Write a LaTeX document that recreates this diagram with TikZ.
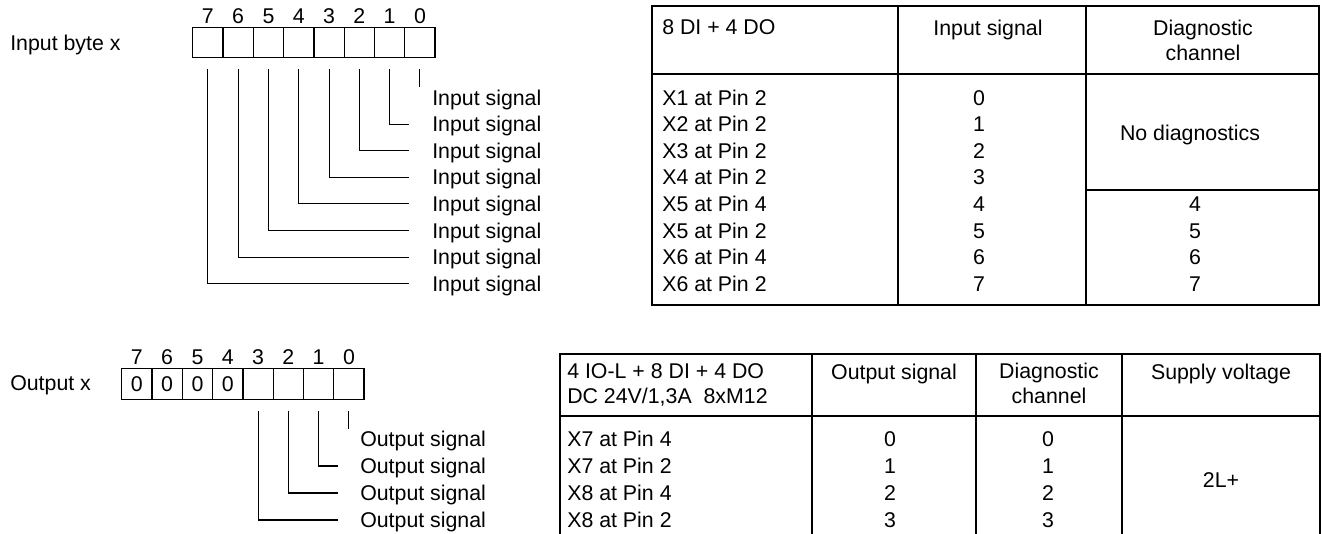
\documentclass[tikz,border=0pt]{standalone}
\usepackage{fontspec}
\setmainfont{Liberation Sans}
\usetikzlibrary{positioning}

\begin{document}
\begin{tikzpicture}[
    x=0.75pt, y=-0.75pt,
    font=\fontsize{16}{19}\selectfont,
    txt/.style={inner sep=0pt, text height=11.5pt, text depth=0pt},
    hdr/.style={inner sep=0pt, anchor=north, align=center},
    bitcell/.style={draw, line width=0.9pt, inner sep=0pt, minimum width=22.7pt, minimum height=22.5pt},
    bitnum/.style={txt, above=2pt of #1},
    sigline/.style={line width=0.8pt, shorten <=8.3pt},
    tabline/.style={line width=1.2pt}
]
\useasboundingbox (0,0) rectangle (1322,534);

% input byte
\node[txt, anchor=west] (inbyte) at (10,42.5) {Input byte x};
\foreach \i in {0,...,7} {
    \node[bitcell] (ib\i) at ({207.85+30.3*(7-\i)},42.5) {};
    \node[bitnum=ib\i] (in\i) {\i};
    \node[txt, anchor=west] (il\i) at (432,{97.5+26.6*\i}) {Input signal};
}
\draw[sigline, shorten >=7.9pt] (ib0.south) -- (ib0.south |- il0.center);
\foreach \i in {1,...,7}
    \draw[sigline, shorten >=17.25pt] (ib\i.south) |- (il\i.west);

% output byte
\node[txt, anchor=west] (outbyte) at (10,383) {Output x};
\foreach \i in {0,...,7} {
    \node[bitcell, minimum height=23.2pt] (ob\i) at ({136.85+30.3*(7-\i)},383.8) {};
    \node[bitnum=ob\i] (on\i) {\i};
}
\foreach \i in {4,...,7}
    \node[txt] at (ob\i) {0};
\foreach \i in {0,...,3}
    \node[txt, anchor=west] (ol\i) at (360,{439+27*\i}) {Output signal};
\draw[sigline, shorten >=7.5pt] (ob0.south) -- (ob0.south |- ol0.center);
\foreach \i in {1,...,3}
    \draw[sigline, shorten >=16.5pt] (ob\i.south) |- (ol\i.west);

% input table
\draw[tabline] (652,6) rectangle (1319,305);
\draw[tabline] (652,74) -- (1319,74);
\draw[tabline] (898,6) -- (898,305);
\draw[tabline] (1086,6) -- (1086,305);
\draw[tabline] (1086,190) -- (1319,190);
\node[txt, anchor=west] (dihead) at (662,26.7) {8 DI + 4 DO};
\node[txt] (dihin) at (988,28) {Input signal};
\node[hdr] (dihdiag) at (1203,19.4) {Diagnostic\\channel};
\foreach \i/\pin in {0/X1 at Pin 2, 1/X2 at Pin 2, 2/X3 at Pin 2, 3/X4 at Pin 2,
                     4/X5 at Pin 4, 5/X5 at Pin 2, 6/X6 at Pin 4, 7/X6 at Pin 2} {
    \node[txt, anchor=west] (dipin\i) at (662,{97.5+26.6*\i}) {\pin};
    \node[txt] (dinum\i) at (979,{97.5+26.6*\i}) {\i};
}
\foreach \i in {4,...,7}
    \node[txt] (didiag\i) at (1195,{97.5+26.6*\i}) {\i};
\node[txt] (dinodiag) at (1190,133) {No diagnostics};

% output table
\draw[tabline] (560,534) -- (560,354) -- (1320,354) -- (1320,534);
\draw[tabline] (560,416) -- (1320,416);
\foreach \cx in {812,976,1122}
    \draw[tabline] (\cx,354) -- (\cx,534);
\node[hdr, anchor=north west, align=left] (dohead) at (567,363.4) {4 IO-L + 8 DI + 4 DO\\DC 24V/1,3A~~8xM12};
\node[txt] (dohout) at (894,372) {Output signal};
\node[hdr] (dohdiag) at (1049,362.4) {Diagnostic\\channel};
\node[txt] (dohsup) at (1221,372) {Supply voltage};
\foreach \i/\pin in {0/X7 at Pin 4, 1/X7 at Pin 2, 2/X8 at Pin 4, 3/X8 at Pin 2} {
    \node[txt, anchor=west] (dopin\i) at (567,{439+27*\i}) {\pin};
    \node[txt] (donum\i) at (890,{439+27*\i}) {\i};
    \node[txt] (dodiag\i) at (1048,{439+27*\i}) {\i};
}
\node[txt] (dosup) at (1221,480) {2L+};
\end{tikzpicture}
\end{document}
